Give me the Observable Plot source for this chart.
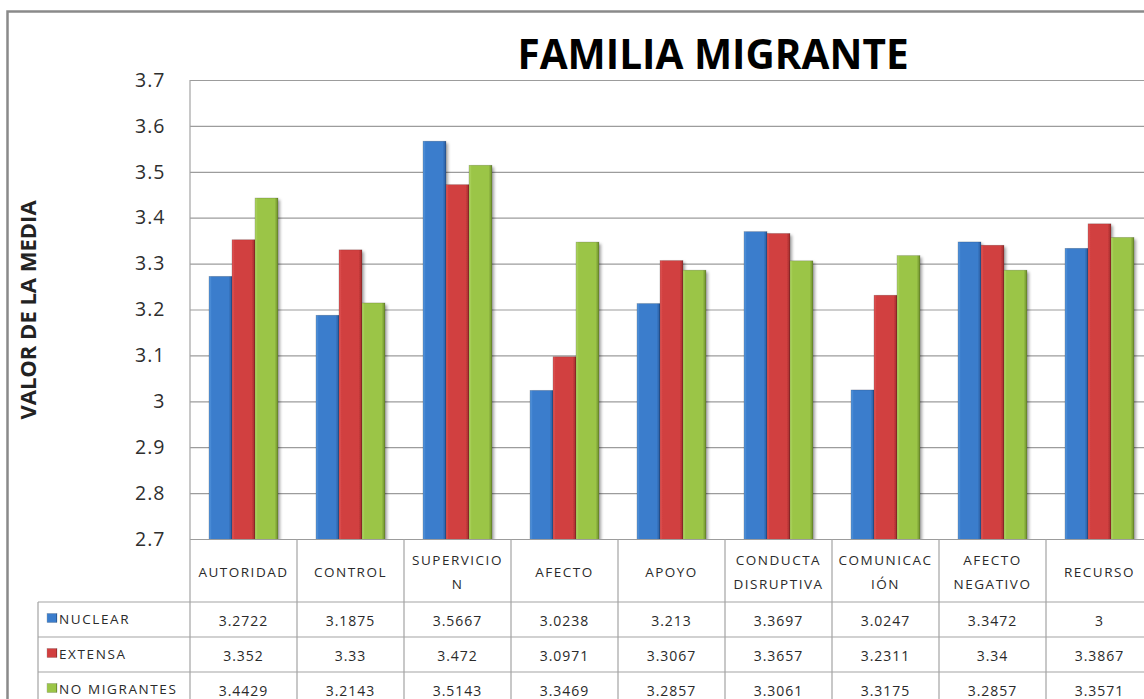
<!DOCTYPE html>
<html>
<head>
<meta charset="utf-8">
<script src="https://cdn.jsdelivr.net/npm/d3@7"></script>
<script src="https://cdn.jsdelivr.net/npm/@observablehq/plot@0.6"></script>
<style>
  html, body { margin: 0; padding: 0; background: #fff; overflow: hidden; }
  #chart { width: 1144px; height: 699px; overflow: hidden; }
  #chart svg { display: block; max-width: none !important; }
</style>
</head>
<body>
<div id="chart"></div>
<script>
// ---- data ----
const categories = ["AUTORIDAD", "CONTROL", "SUPERVICION", "AFECTO", "APOYO", "CONDUCTA DISRUPTIVA", "COMUNICACIÓN", "AFECTO NEGATIVO", "RECURSO"];
const categoryHeaderLines = [["AUTORIDAD"], ["CONTROL"], ["SUPERVICIO", "N"], ["AFECTO"], ["APOYO"], ["CONDUCTA", "DISRUPTIVA"], ["COMUNICAC", "IÓN"], ["AFECTO", "NEGATIVO"], ["RECURSO"]];
const seriesNames = ["NUCLEAR", "EXTENSA", "NO MIGRANTES"];
const nuclear     = [3.2722, 3.1875, 3.5667, 3.0238, 3.213,  3.3697, 3.0247, 3.3472, 3.3333];
const extensa     = [3.352,  3.33,   3.472,  3.0971, 3.3067, 3.3657, 3.2311, 3.34,   3.3867];
const noMigrantes = [3.4429, 3.2143, 3.5143, 3.3469, 3.2857, 3.3061, 3.3175, 3.2857, 3.3571];
const nuclearTableText     = ["3.2722", "3.1875", "3.5667", "3.0238", "3.213", "3.3697", "3.0247", "3.3472", "3"];
const extensaTableText     = ["3.352", "3.33", "3.472", "3.0971", "3.3067", "3.3657", "3.2311", "3.34", "3.3867"];
const noMigrantesTableText = ["3.4429", "3.2143", "3.5143", "3.3469", "3.2857", "3.3061", "3.3175", "3.2857", "3.3571"];
const yTicks = [2.7, 2.8, 2.9, 3, 3.1, 3.2, 3.3, 3.4, 3.5, 3.6, 3.7];
const titleText = "FAMILIA MIGRANTE";
const yTitle = "VALOR DE LA MEDIA";

// colours: [light edge, mid, dark edge]
const seriesColors = [
  ["#5a9ae0", "#3b7dcc", "#27599a"],
  ["#e25a5a", "#d13f3f", "#9c2c2c"],
  ["#b2d868", "#9bc547", "#6c8c2c"]
];

const valueSeries = [nuclear, extensa, noMigrantes];
const tableTexts = [nuclearTableText, extensaTableText, noMigrantesTableText];
const rows = [];
categories.forEach((c, i) => {
  seriesNames.forEach((s, j) => rows.push({cat: c, series: s, value: valueSeries[j][i]}));
});

const W = 1160, H = 699;
const plot = Plot.plot({
  width: W,
  height: H,
  marginLeft: 188,
  marginRight: 5,
  marginTop: 80,
  marginBottom: 160,
  style: {fontFamily: "'Open Sans', sans-serif", fontSize: "19px", color: "#333", background: "transparent", overflow: "visible", maxWidth: "none"},
  facet: {data: rows, x: "cat"},
  fx: {domain: categories, padding: 0, axis: null},
  x: {domain: seriesNames, paddingInner: 0, paddingOuter: 0.73, axis: null},
  y: {domain: [2.7, 3.7], ticks: yTicks, tickSize: 0, tickPadding: 25, tickFormat: d => String(Math.round(d * 10) / 10), label: null},
  color: {domain: seriesNames, range: ["url(#gNuclear)", "url(#gExtensa)", "url(#gNoMig)"]},
  marks: [
    Plot.ruleY(yTicks, {stroke: "#9c9c9c", strokeWidth: 1.2}),
    Plot.barY(rows, {x: "series", y: "value", fill: "series", clip: true})
  ]
});

document.getElementById("chart").appendChild(plot);
const svg = d3.select(plot);

// defs: gradients and shadow
const defs = svg.insert("defs", ":first-child");
const gIds = ["gNuclear", "gExtensa", "gNoMig"];
gIds.forEach((id, j) => {
  const g = defs.append("linearGradient").attr("id", id).attr("x1", 0).attr("x2", 1).attr("y1", 0).attr("y2", 0);
  const [l, m, d] = seriesColors[j];
  g.append("stop").attr("offset", "0").attr("stop-color", l);
  g.append("stop").attr("offset", "0.12").attr("stop-color", m);
  g.append("stop").attr("offset", "0.85").attr("stop-color", m);
  g.append("stop").attr("offset", "1").attr("stop-color", d);
});
const f = defs.append("filter").attr("id", "shadow").attr("x", "-20%").attr("y", "-20%").attr("width", "150%").attr("height", "150%");
f.append("feDropShadow").attr("dx", 2).attr("dy", 2).attr("stdDeviation", 1.8).attr("flood-color", "#000").attr("flood-opacity", 0.35);
svg.selectAll('g[aria-label="bar"] rect').attr("stroke", "rgba(0,0,0,0.25)").attr("stroke-width", 0.6).attr("filter", "url(#shadow)");

// tick label font
svg.selectAll('g[aria-label="y-axis tick label"] text, g[aria-label="y-axis"] text').style("font-size", "19.5px").style("letter-spacing", "1px").attr("fill", "#2e2e2e");

// scales for table
const fx = plot.scale("fx");
const y = plot.scale("y");
const bw = fx.bandwidth;
const colLeft = c => fx.apply(c);
const x0 = colLeft(categories[0]);
const x1 = colLeft(categories[categories.length - 1]) + bw;
const yBase = y.apply(2.7);
const yTop = y.apply(3.7);
const headerBottom = yBase + 63;
const rowH = 35;
const labelLeft = 38;
const lineColor = "#a3a3a3";

const tbl = svg.append("g").attr("font-family", "'Open Sans', sans-serif").attr("fill", "#2a2a2a");
// left axis line
tbl.append("line").attr("x1", x0).attr("x2", x0).attr("y1", yTop).attr("y2", H + 20).attr("stroke", lineColor).attr("stroke-width", 1.2);
// column separators
categories.forEach(c => {
  const xr = colLeft(c) + bw;
  tbl.append("line").attr("x1", xr).attr("x2", xr).attr("y1", yBase).attr("y2", H + 20).attr("stroke", lineColor).attr("stroke-width", 1.2);
});
// horizontal row lines
for (let r = 0; r < 3; r++) {
  const yy = headerBottom + r * rowH;
  tbl.append("line").attr("x1", labelLeft).attr("x2", x1).attr("y1", yy).attr("y2", yy).attr("stroke", lineColor).attr("stroke-width", 1.2);
}
tbl.append("line").attr("x1", labelLeft).attr("x2", labelLeft).attr("y1", headerBottom).attr("y2", H + 20).attr("stroke", lineColor).attr("stroke-width", 1.2);

// headers
categories.forEach((c, i) => {
  const cx = colLeft(c) + bw / 2;
  const lines = categoryHeaderLines[i];
  const mid = (yBase + headerBottom) / 2 + 1;
  lines.forEach((t, k) => {
    const yy = mid + (k - (lines.length - 1) / 2) * 24;
    tbl.append("text").attr("x", cx).attr("y", yy).attr("text-anchor", "middle").attr("dominant-baseline", "central")
      .attr("font-size", 13.5).attr("letter-spacing", "1.5px").text(t);
  });
});
// rows
seriesNames.forEach((s, j) => {
  const cy = headerBottom + j * rowH + rowH / 2;
  tbl.append("rect").attr("x", 47).attr("y", cy - 6).attr("width", 10).attr("height", 9).attr("fill", `url(#${gIds[j]})`).attr("stroke", "rgba(0,0,0,0.3)").attr("stroke-width", 0.5);
  tbl.append("text").attr("x", 59).attr("y", cy - 1).attr("text-anchor", "start").attr("dominant-baseline", "central").attr("font-size", 13.5).attr("letter-spacing", "1.6px").text(s);
  categories.forEach((c, i) => {
    tbl.append("text").attr("x", colLeft(c) + bw / 2).attr("y", cy + 1).attr("text-anchor", "middle").attr("dominant-baseline", "central")
      .attr("font-size", 14).attr("letter-spacing", "1px").text(tableTexts[j][i]);
  });
});

// title
svg.append("text").attr("x", 713).attr("y", 69).attr("text-anchor", "middle")
  .attr("font-family", "'Open Sans', sans-serif").attr("font-weight", "bold").attr("font-size", 40.5).attr("fill", "#000").text(titleText);
// y title
svg.append("text").attr("transform", "translate(36,310) rotate(-90)").attr("text-anchor", "middle")
  .attr("font-family", "'Open Sans', sans-serif").attr("font-weight", "bold").attr("font-size", 22).attr("fill", "#222").text(yTitle);
// outer border
svg.append("rect").attr("x", 7.5).attr("y", 11.5).attr("width", 1300).attr("height", 800).attr("fill", "none").attr("stroke", "#8a8a8a").attr("stroke-width", 2.5);
</script>
</body>
</html>
